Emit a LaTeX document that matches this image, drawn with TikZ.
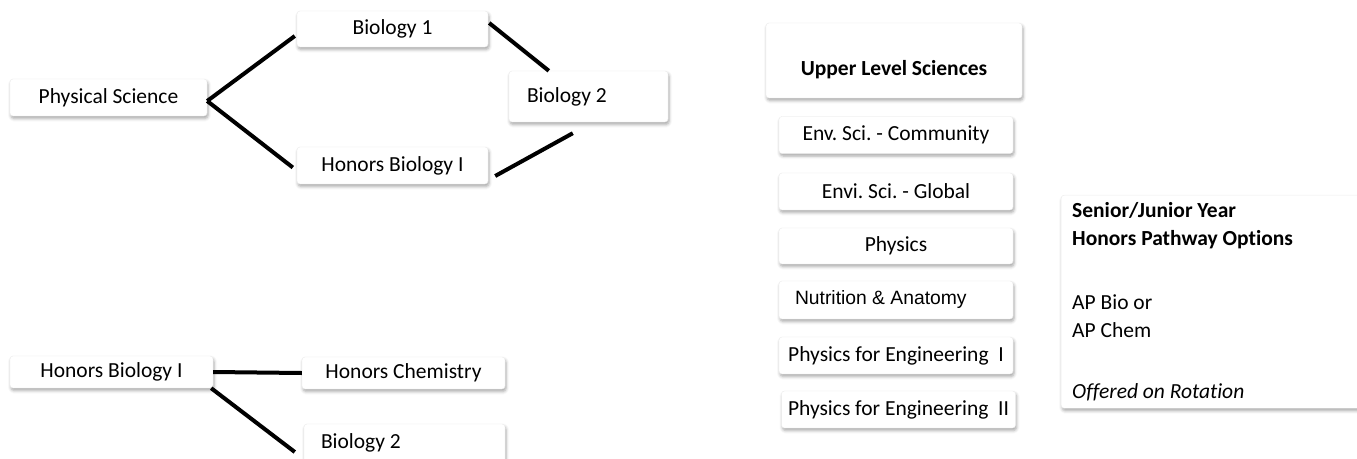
\documentclass[tikz,border=0pt]{standalone}
\usepackage{fontspec}
\setmainfont{Carlito}[Ligatures=NoCommon]
\newfontfamily\arialfont{Liberation Sans}
\usetikzlibrary{shadows.blur}
\frenchspacing

\begin{document}
\begin{tikzpicture}[x=1pt,y=-1pt,
    course/.style={draw=gray!15, fill=white, rounded corners=3pt, inner sep=0pt,
        blur shadow={shadow xshift=1pt, shadow yshift=-2.5pt, shadow blur radius=3pt, shadow opacity=35},
        font=\fontsize{21.5}{28}\selectfont},
    leftcourse/.style={course, align=flush left},
    link/.style={line width=4pt}]
  \useasboundingbox (0,0) rectangle (1357,458);

  % top pathway
  \node[course, minimum width=197pt, minimum height=37pt] (physci) at (108.5,97.5) {Physical Science};
  \node[course, minimum width=191pt, minimum height=36pt] (bioone) at (392.5,29) {Biology 1};
  \node[course, minimum width=191pt, minimum height=37pt] (honbio) at (392.5,165.5) {Honors Biology I};
  \node[leftcourse, inner xsep=18pt, text width=123pt, minimum height=51pt] (biotwo) at (588.5,96.5) {Biology 2};

  \draw[link] ([yshift=-3.5pt]physci.east) -- ([shift={(-2pt,-7pt)}]bioone.west);
  \draw[link] ([yshift=-3.5pt]physci.east) -- ([shift={(-4pt,-2pt)}]honbio.west);
  \draw[link] ([shift={(1pt,6pt)}]bioone.east) -- ([xshift=40pt]biotwo.north west);
  \draw[link] ([shift={(7pt,-10.5pt)}]honbio.east) -- ([shift={(64pt,-11pt)}]biotwo.south west);

  % honors pathway
  \node[course, minimum width=203pt, minimum height=32pt] (honbiob) at (111.5,372) {Honors Biology I};
  \node[course, minimum width=203pt, minimum height=32pt] (honchem) at (403.5,373) {Honors Chemistry};
  \node[leftcourse, inner xsep=17pt, text width=167pt, minimum height=38pt] (biotwob) at (404.5,443) {Biology 2};

  \draw[link] (honbiob.east) -- (honchem.west);
  \draw[link] ([xshift=-2pt]honbiob.south east) -- ([shift={(-9pt,-9pt)}]biotwob.west);

  % upper level column
  \node[course, minimum width=256pt, minimum height=75pt, text height=34pt] (upper) at (894,60.5) {\textbf{Upper Level Sciences}};
  \node[course, minimum width=234pt, minimum height=37pt] (envcom) at (896,135) {Env. Sci. - Community};
  \node[course, minimum width=234pt, minimum height=37pt] (envglob) at (896,191.5) {Envi. Sci. - Global};
  \node[course, minimum width=234pt, minimum height=36pt] (physics) at (896,246) {Physics};
  \node[leftcourse, inner xsep=16pt, text width=202pt, minimum height=38pt, font=\arialfont\fontsize{19.3}{24}\selectfont] (nutr) at (896,300) {Nutrition \& Anatomy};
  \node[course, minimum width=234pt, minimum height=37pt] (engone) at (896,355.5) {Physics for Engineering~ I};
  \node[course, minimum width=234pt, minimum height=37pt] (engtwo) at (898.5,409.5) {Physics for Engineering~ II};

  % honors options
  \node[leftcourse, anchor=north west, inner xsep=11pt, text width=298pt, minimum height=213pt] (senior) at (1061,195)
    {\textbf{Senior/Junior Year}\\ \textbf{Honors Pathway Options}\\[36pt] AP Bio or\\ AP Chem\\[33pt] \textit{Offered on Rotation}};
\end{tikzpicture}
\end{document}
